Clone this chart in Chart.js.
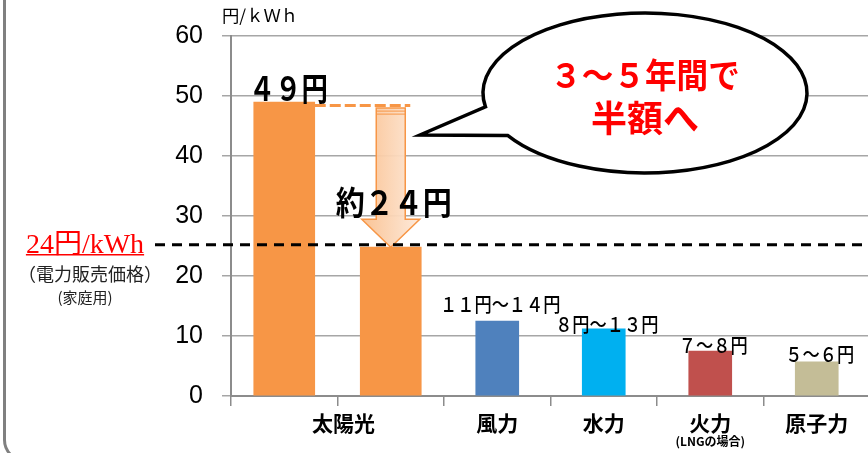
<!DOCTYPE html>
<html lang="ja">
<head>
<meta charset="utf-8">
<title>発電コストの比較</title>
<script src="https://cdn.jsdelivr.net/npm/chart.js@4.4.1/dist/chart.umd.min.js"></script>
<style>
  html, body { margin: 0; padding: 0; background: #fff; overflow: hidden; }
  #wrap { position: relative; width: 868px; height: 453px; overflow: hidden; }
  #chart { position: absolute; left: 0; top: 0; }
  #frame {
    position: absolute; left: 3px; top: -40px; width: 1000px; height: 502px;
    box-sizing: border-box; border: 3px solid #808080; border-radius: 22px;
    pointer-events: none;
  }
</style>
</head>
<body>
<div id="wrap">
  <canvas id="chart" width="872" height="453"></canvas>
  <div id="frame"></div>
</div>
<script>
// --- データ ---
const categories = ['太陽光(現在)', '太陽光(3～5年後)', '風力', '水力', '火力', '原子力'];
const axisLabels = ['太陽光', '太陽光', '風力', '水力', '火力', '原子力'];
const axisSubLabels = ['', '', '', '', '(LNGの場合)', ''];
const solarCost = [49, 24.8, null, null, null, null];
const otherCost = [null, null, 12.5, 11.2, 7.5, 5.7];
const costLabels = ['４９円', '約２４円', '１１円～１４円', '８円～１３円', '７～８円', '５～６円'];
const yTicks = [0, 10, 20, 30, 40, 50, 60];
const priceLine = 25.2;      // 家庭用の電力販売価格 24円/kWh の線
const solarHalfLine = 48.4;  // 49円から下ろす矢印の起点
const bubbleLines = ['３～５年間で', '半額へ'];

// --- 見た目 ---
const barColors = ['#f79646', '#f79646', '#4f81bd', '#00b0f0', '#c0504d', '#c4bd97'];
const labelDy = [0, 0, -9, 3, 2, 0];
const JP = '"Noto Sans CJK JP", "Noto Sans", sans-serif';

function text(ctx, str, cx, by, font, color, sx = 1) {
  ctx.save();
  ctx.font = font;
  ctx.fillStyle = color;
  ctx.textAlign = 'center';
  ctx.textBaseline = 'alphabetic';
  ctx.translate(cx, by);
  ctx.scale(sx, 1);
  ctx.fillText(str, 0, 0);
  ctx.restore();
}

const annotate = {
  id: 'annotate',
  afterDatasetsDraw(chart) {
    const { ctx, scales: { x, y } } = chart;
    const solar = chart.getDatasetMeta(0).data;
    const other = chart.getDatasetMeta(1).data;

    // 単位
    ctx.save();
    ctx.font = '17px ' + JP;
    ctx.fillStyle = '#000';
    ctx.textAlign = 'left';
    ctx.setTransform(1.02, 0, 0, 1, 222, 22);
    ctx.fillText('円/ｋＷｈ', 0, 0);
    ctx.restore();

    // x軸ラベル
    const lblY = 431;
    categories.forEach((c, i) => {
      if (i === 1) return;
      let cx = x.getPixelForValue(i);
      if (i === 0) cx = (x.getPixelForValue(0) + x.getPixelForValue(1)) / 2 + 6;
      text(ctx, axisLabels[i], cx, lblY, 'bold 21px ' + JP, '#000');
      if (axisSubLabels[i]) text(ctx, axisSubLabels[i], cx, lblY + 15, 'bold 12px ' + JP, '#000');
    });

    // 49円 → 約24円 の矢印
    const b0 = solar[0], b1 = solar[1];
    const yHalf = y.getPixelForValue(solarHalfLine);
    const top = yHalf + 2.5, tip = y.getPixelForValue(solarCost[1]);
    const ax = b1.x, sw = 14.5, hw = 29, hh = 28;
    ctx.save();
    const g = ctx.createLinearGradient(ax - hw, 0, ax + hw, 0);
    g.addColorStop(0, 'rgba(250,192,143,0.95)');
    g.addColorStop(1, 'rgba(253,233,217,0.95)');
    ctx.beginPath();
    ctx.moveTo(ax - sw, top);
    ctx.lineTo(ax + sw, top);
    ctx.lineTo(ax + sw, tip - hh);
    ctx.lineTo(ax + hw, tip - hh);
    ctx.lineTo(ax, tip);
    ctx.lineTo(ax - hw, tip - hh);
    ctx.lineTo(ax - sw, tip - hh);
    ctx.closePath();
    ctx.fillStyle = g;
    ctx.fill();
    ctx.strokeStyle = '#f79646';
    ctx.lineWidth = 1.5;
    ctx.stroke();
    ctx.beginPath();
    ctx.moveTo(ax - sw, top + 3); ctx.lineTo(ax + sw, top + 3);
    ctx.moveTo(ax - sw, top + 6); ctx.lineTo(ax + sw, top + 6);
    ctx.lineWidth = 1;
    ctx.stroke();
    // オレンジ破線
    ctx.beginPath();
    ctx.setLineDash([11, 4]);
    ctx.moveTo(b0.x + b0.width / 2, yHalf);
    ctx.lineTo(ax + sw + 5, yHalf);
    ctx.lineWidth = 3;
    ctx.stroke();
    ctx.restore();

    // 棒の値ラベル
    text(ctx, costLabels[0], b0.x + 4, b0.y - 1, 'bold 33px ' + JP, '#000', 0.8);
    text(ctx, costLabels[1], ax + 3, tip - 32, 'bold 33px ' + JP, '#000', 0.88);
    other.forEach((bar, i) => {
      if (otherCost[i] == null) return;
      text(ctx, costLabels[i], bar.x + 3, bar.y + labelDy[i], '500 20px ' + JP, '#000', 0.86);
    });

    // 吹き出し
    const cx = 645, cy = 93, rx = 162, ry = 80;
    const a1 = 170 * Math.PI / 180, a2 = 148 * Math.PI / 180;
    ctx.save();
    ctx.beginPath();
    ctx.ellipse(cx, cy, rx, ry, 0, a1, a2, false);
    ctx.lineTo(420, 135);
    ctx.closePath();
    ctx.fillStyle = '#fff';
    ctx.fill();
    ctx.strokeStyle = '#000';
    ctx.lineWidth = 3.5;
    ctx.lineJoin = 'miter';
    ctx.stroke();
    ctx.restore();
    text(ctx, bubbleLines[0], cx, 88, 'bold 34px ' + JP, '#ff0000', 0.93);
    text(ctx, bubbleLines[1], cx, 132, 'bold 36px ' + JP, '#ff0000');

    // 電力販売価格の線
    const yp = y.getPixelForValue(priceLine);
    ctx.save();
    ctx.beginPath();
    ctx.setLineDash([10, 7]);
    ctx.moveTo(155, yp);
    ctx.lineTo(x.right, yp);
    ctx.strokeStyle = '#000';
    ctx.lineWidth = 3;
    ctx.stroke();
    ctx.restore();

    // 左側の説明
    const serif = '28px "Liberation Serif", "Noto Sans CJK JP", serif';
    ctx.save();
    ctx.font = serif;
    const w = ctx.measureText('24円/kWh').width;
    ctx.restore();
    text(ctx, '24円/kWh', 85, yp + 8, serif, '#ff0000');
    ctx.save();
    ctx.beginPath();
    ctx.moveTo(85 - w / 2, yp + 10);
    ctx.lineTo(85 + w / 2, yp + 10);
    ctx.strokeStyle = '#ff0000';
    ctx.lineWidth = 1.5;
    ctx.stroke();
    ctx.restore();
    text(ctx, '（電力販売価格）', 90, yp + 36, '18px ' + JP, '#222');
    text(ctx, '(家庭用)', 85, yp + 58, '15px ' + JP, '#222');
  }
};

new Chart(document.getElementById('chart'), {
  type: 'bar',
  data: {
    labels: categories,
    datasets: [
      { label: '太陽光', data: solarCost, backgroundColor: barColors, barThickness: 61, grouped: false },
      { label: 'その他', data: otherCost, backgroundColor: barColors, barThickness: 43, grouped: false }
    ]
  },
  options: {
    responsive: false,
    animation: false,
    layout: { padding: { top: 36, right: 2, left: 0, bottom: 0 } },
    plugins: { legend: { display: false }, tooltip: { enabled: false } },
    scales: {
      x: {
        offset: true,
        grid: { drawOnChartArea: false, tickLength: 10, color: '#8c8c8c', lineWidth: 1.5, offset: true },
        border: { color: '#8c8c8c', width: 2 },
        ticks: { display: false },
        afterFit: s => { s.height = 57; }
      },
      y: {
        min: 0,
        max: 60,
        afterBuildTicks: s => { s.ticks = yTicks.map(v => ({ value: v })); },
        grid: { color: '#a6a6a6', lineWidth: 1.5, tickLength: 9 },
        border: { color: '#8c8c8c', width: 2 },
        ticks: { padding: 19, color: '#000', font: { family: '"Liberation Sans", Arial, sans-serif', size: 25 } },
        afterFit: s => { s.width = 231; }
      }
    }
  },
  plugins: [annotate]
});
</script>
</body>
</html>
